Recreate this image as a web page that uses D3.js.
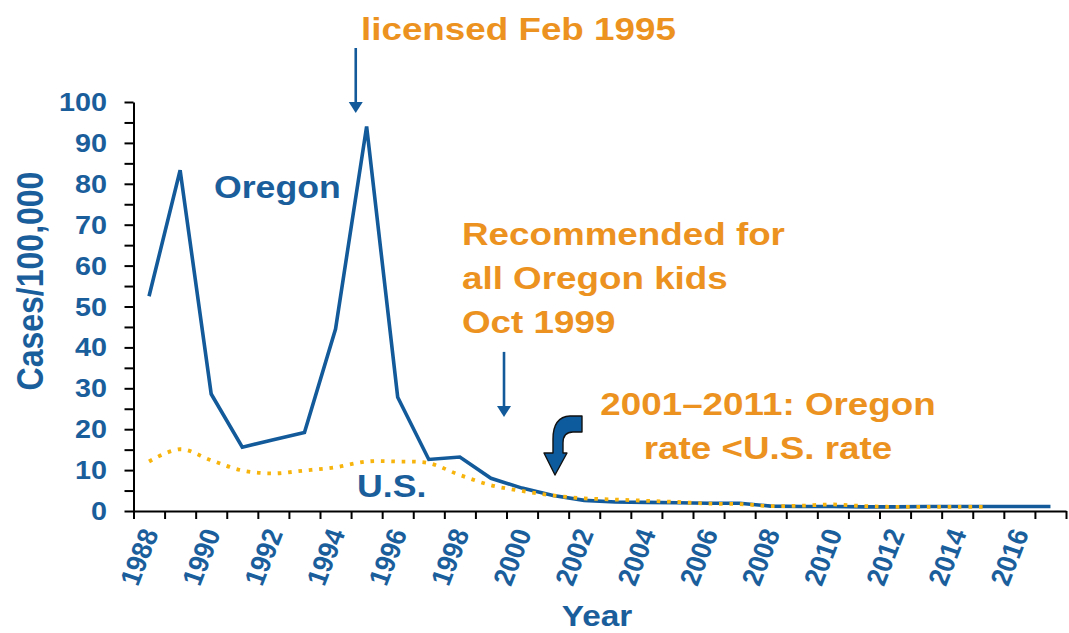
<!DOCTYPE html>
<html>
<head>
<meta charset="utf-8">
<script src="https://cdn.jsdelivr.net/npm/d3@7"></script>
<style>
  html, body { margin: 0; padding: 0; background: #fff; }
  svg { display: block; font-family: 'Liberation Sans', Arial, sans-serif; font-weight: bold; }
</style>
</head>
<body>
<svg id="chart" width="1069" height="633"></svg>
<script>
// yearly rates, cases per 100,000
const years = [1988, 1989, 1990, 1991, 1992, 1993, 1994, 1995, 1996, 1997,
  1998, 1999, 2000, 2001, 2002, 2003, 2004, 2005, 2006, 2007,
  2008, 2009, 2010, 2011, 2012, 2013, 2014, 2015, 2016, 2017]
const oregonRates = [52.5, 83.3, 28.6, 15.6, 17.4, 19.2, 44.5, 94.0, 27.8, 12.6,
  13.2, 8.0, 5.6, 3.8, 2.6, 2.2, 2.1, 2.0, 1.9, 1.9,
  1.2, 1.1, 1.1, 1.0, 1.0, 1.1, 1.1, 1.1, 1.1, 1.1]
const usYears = [1988, 1989, 1990, 1991, 1992, 1993, 1994, 1995, 1996, 1997,
  1998, 1999, 2000, 2001, 2002, 2003, 2004, 2005, 2006, 2007,
  2008, 2009, 2010, 2011, 2012, 2013, 2014, 2015]
const usRates = [12.1, 15.1, 12.4, 9.9, 9.2, 9.9, 10.7, 12.1, 12.1, 11.7,
  8.8, 6.3, 4.9, 3.8, 3.1, 2.8, 2.5, 2.2, 1.8, 1.7,
  1.2, 1.3, 1.6, 1.2, 1.0, 1.0, 1.0, 1.0]
const yTickValues = [0, 10, 20, 30, 40, 50, 60, 70, 80, 90, 100]
const yMinorTicks = [0, 5, 10, 15, 20, 25, 30, 35, 40, 45, 50, 55, 60, 65, 70, 75, 80, 85, 90, 95, 100]
const xLabelYears = [1988, 1990, 1992, 1994, 1996, 1998, 2000, 2002, 2004, 2006, 2008, 2010, 2012, 2014, 2016]

// annotation arrows: [year, top value, tip value]
const licensedArrow = [1995.15, 113.2, 97.3]
const recommendArrow = [1999.92, 38.9, 23.0]
const bentArrowTip = [2001.56, 8.8]

const BLUE = '#125A9A'
const TEXT_BLUE = '#1B5E9C'
const ORANGE = '#EC9220'
const GOLD = '#F7B40C'
const SX = 1.15 // the source picture is a bit wider than tall

const svg = d3.select('#chart')

const xTime = d3.scaleLinear().domain([1988, 2018]).range([133.5, 1066])
const yScale = d3.scaleLinear().domain([0, 100]).range([511, 102])
const xMid = function (yr) { return xTime(yr + 0.5) }

/**
 * Adds a bold text, slightly stretched sideways like in the source.
 */
function addText (parent, x, y, txt, size, color, anchor, rotate, sx) {
  const s = sx === undefined ? SX : sx
  return parent.append('text')
    .attr('transform', 'translate(' + x + ',' + y + ') scale(' + s + ',1)' + (rotate ? ' rotate(' + rotate + ')' : ''))
    .attr('text-anchor', anchor || 'start')
    .attr('font-size', size)
    .attr('fill', color)
    .text(txt)
}

/**
 * Draws both axes with their ticks and labels.
 */
function drawAxes () {
  svg.append('g')
    .attr('transform', 'translate(' + xTime(1988) + ',0)')
    .call(d3.axisLeft(yScale).tickValues(yMinorTicks).tickSize(9).tickSizeOuter(0).tickFormat(''))
  svg.append('g')
    .attr('transform', 'translate(0,' + yScale(0) + ')')
    .call(d3.axisBottom(xTime).tickValues(d3.range(1988, 2019)).tickSize(8).tickSizeOuter(0).tickFormat(''))

  svg.selectAll('.domain').attr('stroke', '#000').attr('stroke-width', 2)
  svg.selectAll('.tick line').attr('stroke', '#000').attr('stroke-width', 2)

  yTickValues.forEach(function (v) {
    addText(svg, 107, yScale(v), v, 25, TEXT_BLUE, 'end').attr('dy', '0.36em')
  })
  xLabelYears.forEach(function (yr) {
    addText(svg, xMid(yr) + 10, 533, yr, 26, TEXT_BLUE, 'end', -70, 1.08)
  })

  addText(svg, 43, 281, 'Cases/100,000', 32, TEXT_BLUE, 'middle', -90)
  addText(svg, 597, 626, 'Year', 29, TEXT_BLUE, 'middle')
}

/**
 * Draws the two series.
 */
function drawLines () {
  const oregon = years.map(function (d, i) { return [d, oregonRates[i]] })
  const us = usYears.map(function (d, i) { return [d, usRates[i]] })

  svg.append('path')
    .datum(oregon)
    .attr('fill', 'none')
    .attr('stroke', BLUE)
    .attr('stroke-width', 3.6)
    .attr('stroke-linejoin', 'miter')
    .attr('d', d3.line().x(function (d) { return xMid(d[0]) }).y(function (d) { return yScale(d[1]) }))

  svg.append('path')
    .datum(us)
    .attr('fill', 'none')
    .attr('stroke', GOLD)
    .attr('stroke-width', 3.8)
    .attr('stroke-dasharray', '3.6,6.8')
    .attr('d', d3.line().curve(d3.curveCatmullRom.alpha(0.5))
      .x(function (d) { return xMid(d[0]) }).y(function (d) { return yScale(d[1]) }))
}

/**
 * Straight down arrow for an event.
 */
function drawArrow (a) {
  const x = xTime(a[0])
  const top = yScale(a[1])
  const tip = yScale(a[2])
  svg.append('line')
    .attr('x1', x).attr('x2', x)
    .attr('y1', top).attr('y2', tip - 8)
    .attr('stroke', BLUE)
    .attr('stroke-width', 2.6)
  svg.append('path')
    .attr('d', 'M' + (x - 7) + ',' + (tip - 11) + 'L' + (x + 7) + ',' + (tip - 11) + 'L' + x + ',' + tip + 'Z')
    .attr('fill', BLUE)
}

/**
 * The bent block arrow pointing at 2001.
 */
function drawBentArrow () {
  const tx = xTime(bentArrowTip[0])
  const ty = yScale(bentArrowTip[1])
  svg.append('path')
    .attr('transform', 'translate(' + tx + ',' + ty + ')')
    .attr('d', 'M0,0 L12,-22 L8,-22 L8,-32 Q8,-43 18,-43 L27,-43 L27,-59 L15,-59 Q-2,-58 -2,-36 L-2,-22 L-11,-22 Z')
    .attr('fill', '#0D5A9C')
    .attr('stroke', '#111')
    .attr('stroke-width', 1.4)
    .attr('stroke-linejoin', 'round')
}

/**
 * Text notes on the chart.
 */
function drawNotes () {
  addText(svg, 361, 40, 'licensed Feb 1995', 32, ORANGE)
  addText(svg, 214, 198, 'Oregon', 31, TEXT_BLUE)
  addText(svg, 357, 497, 'U.S.', 31, TEXT_BLUE)

  addText(svg, 462, 245, 'Recommended for', 32, ORANGE)
  addText(svg, 462, 289, 'all Oregon kids', 32, ORANGE)
  addText(svg, 462, 333, 'Oct 1999', 32, ORANGE)

  addText(svg, 768, 415, '2001–2011: Oregon', 32, ORANGE, 'middle')
  addText(svg, 768, 459, 'rate <U.S. rate', 32, ORANGE, 'middle')
}

drawAxes()
drawLines()
drawArrow(licensedArrow)
drawArrow(recommendArrow)
drawBentArrow()
drawNotes()
</script>
</body>
</html>
